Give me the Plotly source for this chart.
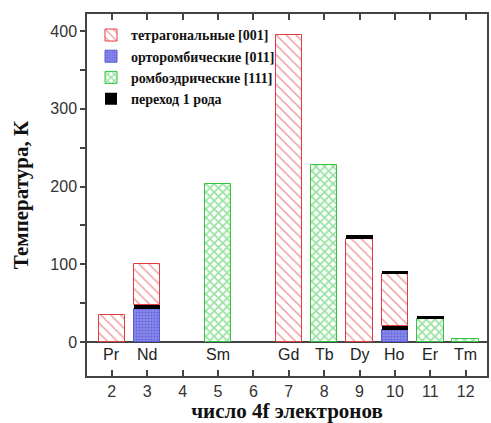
import plotly.graph_objects as go

# --- data ---
elements = ["Pr", "Nd", "Sm", "Gd", "Tb", "Dy", "Ho", "Er", "Tm"]
n4f = [2, 3, 5, 7, 8, 9, 10, 11, 12]

tet_x = [2, 3, 7, 9, 10]
tet_base = [0, 47, 0, 0, 20]
tet_top = [35, 100, 395, 133, 87]

ort_x = [3, 10]
ort_base = [0, 0]
ort_top = [43, 16]

rho_x = [5, 8, 11, 12]
rho_base = [0, 0, 0, 0]
rho_top = [203, 228, 29, 4]

tr_x = [3, 9, 10, 10, 11]
tr_low = [43, 133, 16, 87, 29]
tr_high = [47, 138, 20, 91, 33]

names = ["тетрагональные [001]", "орторомбические [011]",
         "ромбоэдрические [111]", "переход 1 рода"]
xticks = [2, 3, 4, 5, 6, 7, 8, 9, 10, 11, 12]
yticks = [0, 100, 200, 300, 400]

def heights(lo, hi):
    return [h - l for l, h in zip(lo, hi)]

W = 0.75
fig = go.Figure()
fig.add_trace(go.Bar(
    x=tet_x, y=heights(tet_base, tet_top), base=tet_base, width=W, name="<b>" + names[0] + "</b>",
    marker=dict(color="white", line=dict(color="#e23c42", width=1),
                pattern=dict(shape="\\", fgcolor="#e23c42", bgcolor="white",
                             size=7, solidity=0.22))))
fig.add_trace(go.Bar(
    x=ort_x, y=heights(ort_base, ort_top), base=ort_base, width=W, name="<b>" + names[1] + "</b>",
    marker=dict(color="#6a6ae0", line=dict(color="#5a5ad8", width=1),
                pattern=dict(shape=".", fgcolor="#3c3cc8", bgcolor="#8c8cec",
                             size=3, solidity=0.4))))
fig.add_trace(go.Bar(
    x=rho_x, y=heights(rho_base, rho_top), base=rho_base, width=W, name="<b>" + names[2] + "</b>",
    marker=dict(color="white", line=dict(color="#33c443", width=1),
                pattern=dict(shape="x", fgcolor="#33c443", bgcolor="white",
                             size=6, solidity=0.5))))
fig.add_trace(go.Bar(
    x=tr_x, y=heights(tr_low, tr_high), base=tr_low, width=W, name="<b>" + names[3] + "</b>",
    marker=dict(color="black", line=dict(width=0))))

for el, n in zip(elements, n4f):
    fig.add_annotation(x=n, y=0, text=el, showarrow=False, yanchor="top",
                       yshift=-2, font=dict(family="Liberation Sans", size=16, color="#222"))

frame = "#444"
fig.update_layout(
    width=491, height=423,
    margin=dict(l=87, r=2, t=14, b=47),
    plot_bgcolor="white", paper_bgcolor="white",
    barmode="overlay",
    bargap=0,
    legend=dict(x=0.01, y=0.985, xanchor="left", yanchor="top",
                bgcolor="rgba(0,0,0,0)", borderwidth=0,
                font=dict(family="Liberation Serif", size=14, color="#111"),
                itemwidth=30, tracegroupgap=0, traceorder="normal"),
    xaxis=dict(range=[1.3, 12.6], tickvals=xticks, ticks="inside", ticklen=6,
               tickcolor=frame, tickwidth=1.5, mirror="ticks", showline=True,
               linecolor=frame, linewidth=1.5, showgrid=False, zeroline=False,
               tickfont=dict(family="Liberation Sans", size=16, color="#333"),
               title=dict(text="<b>число 4f электронов</b>", standoff=4,
                          font=dict(family="Liberation Serif", size=21, color="#111"))),
    yaxis=dict(range=[-43.7, 421.9], tickvals=yticks, ticks="outside", ticklen=5,
               tickcolor=frame, tickwidth=1.5, showline=True, mirror=True,
               linecolor=frame, linewidth=1.5, showgrid=False,
               zeroline=True, zerolinecolor=frame, zerolinewidth=1.5,
               minor=dict(tickvals=[50, 150, 250, 350], ticks="outside", ticklen=5,
                          tickcolor=frame, tickwidth=1.5, showgrid=False),
               tickfont=dict(family="Liberation Sans", size=16, color="#333"),
               title=dict(text="<b>Температура, К</b>", standoff=16,
                          font=dict(family="Liberation Serif", size=21, color="#111"))),
    yaxis2=dict(overlaying="y", side="right", range=[-43.7, 421.9], tickvals=yticks,
                ticks="inside", ticklen=5, tickcolor=frame, tickwidth=1.5,
                showticklabels=False, showgrid=False, zeroline=False, showline=False),
    showlegend=True,
)
fig.write_html("out.html", config={"displayModeBar": False},
               post_script="document.body.style.margin='0';")
